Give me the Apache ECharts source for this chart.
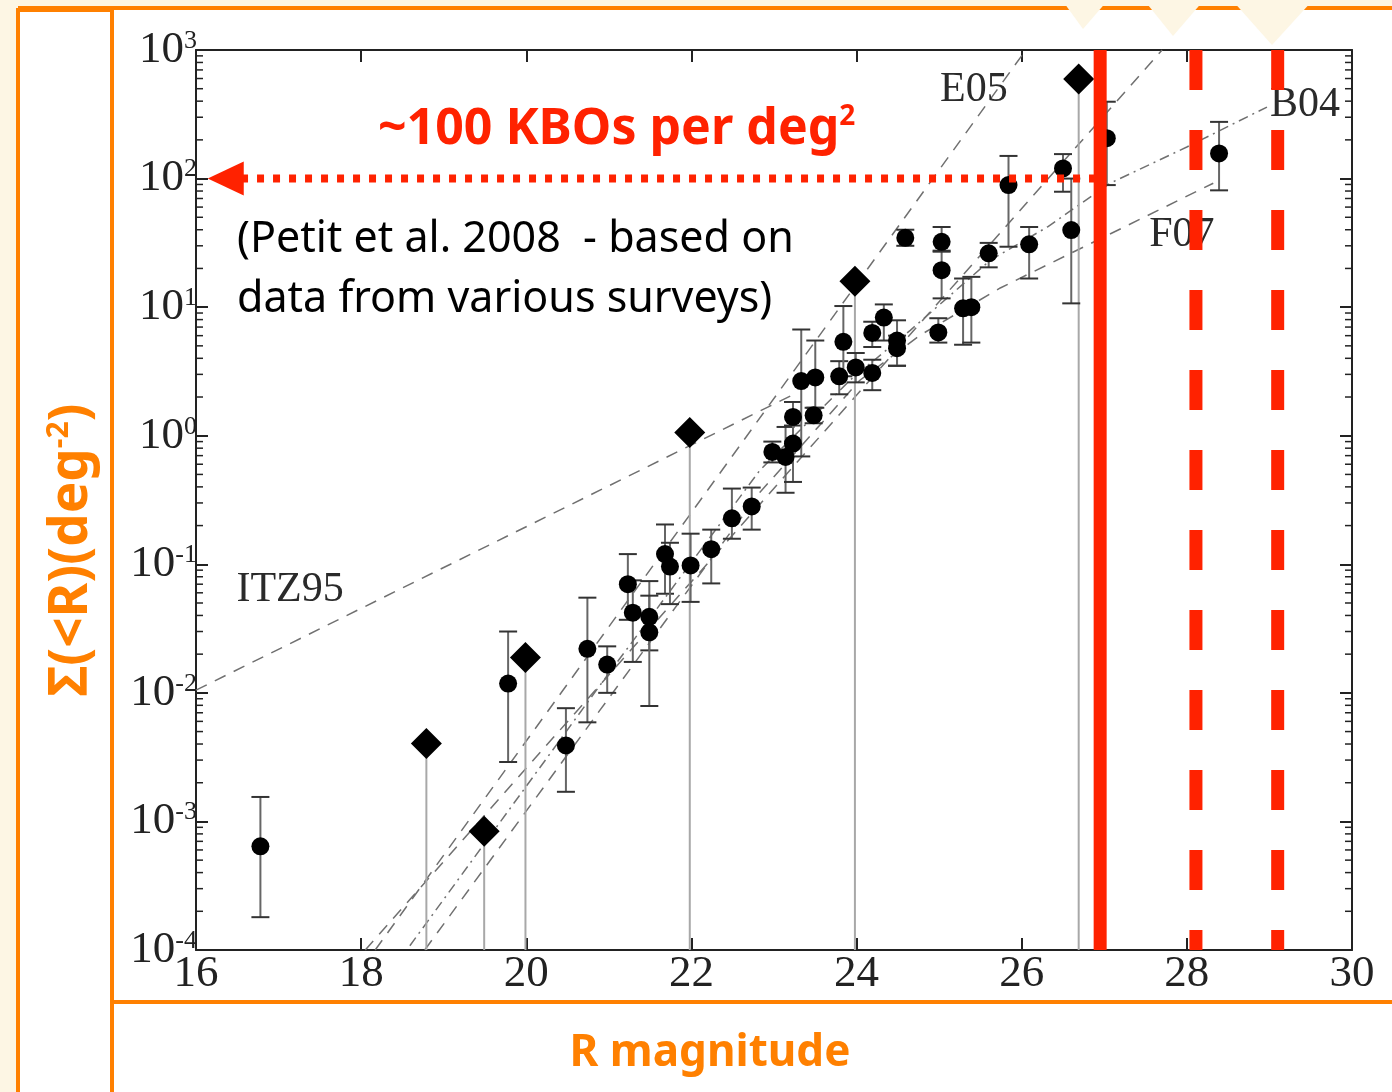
<!DOCTYPE html>
<html>
<head>
<meta charset="utf-8">
<script src="https://cdn.jsdelivr.net/npm/echarts@6/dist/echarts.min.js"></script>
<style>
  html, body { margin: 0; padding: 0; background: #fdf6e4; }
  #main { width: 1392px; height: 1092px; }
</style>
</head>
<body>
<div id="main"></div>
<script>
// R magnitude axis
var magTicks = [16, 18, 20, 22, 24, 26, 28, 30];
// decades of the log axis (for minor ticks)
var decadeStarts = [1e-4, 1e-3, 1e-2, 1e-1, 1, 10, 100];

// survey points: [mag, sigma, low, high]
var kboPoints = [
  [16.78, 6.4e-4, 1.8e-4, 1.55e-3],
  [19.78, 0.0118, 2.9e-3, 0.030],
  [20.48, 3.9e-3, 1.7e-3, 7.6e-3],
  [20.74, 0.022, 5.9e-3, 0.055],
  [20.98, 0.0166, 0.010, 0.023],
  [21.23, 0.070, 0.037, 0.12],
  [21.29, 0.042, 0.0174, 0.075],
  [21.49, 0.039, 0.0214, 0.074],
  [21.49, 0.0296, 0.0079, 0.057],
  [21.68, 0.12, 0.059, 0.204],
  [21.74, 0.096, 0.049, 0.147],
  [21.99, 0.098, 0.051, 0.173],
  [22.24, 0.131, 0.071, 0.186],
  [22.49, 0.228, 0.158, 0.388],
  [22.73, 0.282, 0.186, 0.395],
  [22.98, 0.748, 0.62, 0.90],
  [23.14, 0.684, 0.36, 1.17],
  [23.23, 0.869, 0.437, 1.2],
  [23.23, 1.4, 0.9, 1.83],
  [23.33, 2.66, 0.69, 6.7],
  [23.50, 2.84, 1.65, 5.5],
  [23.48, 1.44, 1.25, 1.65],
  [23.79, 2.9, 2.1, 3.8],
  [23.84, 5.37, 2.9, 10.2],
  [23.99, 3.4, 2.6, 4.4],
  [24.19, 3.08, 2.26, 3.9],
  [24.19, 6.3, 4.9, 7.7],
  [24.33, 8.3, 5.5, 10.5],
  [24.49, 5.5, 3.5, 7.9],
  [24.49, 4.8, 3.5, 6.0],
  [24.59, 34.6, 30, 40],
  [24.99, 6.36, 5.3, 8.2],
  [25.03, 32.2, 27.5, 42],
  [25.03, 19.4, 11.7, 27],
  [25.29, 9.8, 5.1, 16.7],
  [25.39, 10.0, 5.3, 17.2],
  [25.60, 26.2, 20.4, 31.6],
  [25.84, 89, 29.5, 150],
  [26.09, 30.8, 16.7, 42],
  [26.50, 120, 79, 155],
  [26.60, 39.8, 10.7, 100],
  [27.03, 206, 89, 396],
  [28.39, 157, 81, 276]
];

// single-object detections: [mag, sigma]
var diamondPoints = [
  [18.79, 4.03e-3],
  [19.49, 8.4e-4],
  [19.99, 0.0188],
  [21.98, 1.06],
  [23.98, 15.9],
  [26.69, 595]
];

// published fits
var fitITZ95 = [[16, 0.0105], [23.2, 2.04]];
var fitE05 = [[18.17, 1e-4], [26.05, 1000]];
var fitSteep = [[18.05, 1e-4], [27.70, 1000]];
var fitB04 = [[18.59, 1.08e-4], [20.89, 0.0114], [22.83, 0.54], [23.92, 2.7], [24.65, 6.6],
              [25.62, 23.2], [26.31, 42], [27.07, 92], [28.0, 176], [28.97, 360]];
var fitF07 = [[18.77, 1e-4], [20.89, 0.0073], [22.83, 0.363], [24.04, 2.7], [24.77, 6.05],
              [25.74, 14.1], [28.32, 92]];
var fitLabels = [
  { name: 'E05', value: [25.42, 489] },
  { name: 'B04', value: [29.43, 373] },
  { name: 'F07', value: [27.94, 36.3] },
  { name: 'ITZ95', value: [17.14, 0.0628] }
];

// survey limits and the ~100/deg2 level
var limitSolid = 26.95;
var limitDashed = [28.11, 29.10];
var arrowLevel = 100;
var arrowFrom = 26.9, arrowTo = 16.55, arrowHead = 16.36;

var RED = '#ff2200';
var ORANGE = '#ff8000';

function errorBar(params, api) {
  var x = api.value(0);
  var lo = api.coord([x, api.value(2)]);
  var hi = api.coord([x, api.value(3)]);
  var half = 9;
  var st = { stroke: '#333', lineWidth: 2 };
  return {
    type: 'group',
    children: [
      { type: 'line', shape: { x1: lo[0], y1: lo[1], x2: hi[0], y2: hi[1] }, style: { stroke: '#666', lineWidth: 2 } },
      { type: 'line', shape: { x1: lo[0] - half, y1: lo[1], x2: lo[0] + half, y2: lo[1] }, style: st },
      { type: 'line', shape: { x1: hi[0] - half, y1: hi[1], x2: hi[0] + half, y2: hi[1] }, style: st }
    ]
  };
}

function stem(params, api) {
  var x = api.value(0);
  var top = api.coord([x, api.value(1)]);
  var bot = api.coord([x, 1e-4]);
  return { type: 'line', shape: { x1: top[0], y1: top[1], x2: bot[0], y2: bot[1] },
           style: { stroke: '#a8a8a8', lineWidth: 2 } };
}

function minorTicks(params, api) {
  var base = api.value(1);
  var kids = [];
  for (var m = 2; m <= 9; m++) {
    var l = api.coord([16, base * m]);
    var r = api.coord([30, base * m]);
    kids.push({ type: 'line', shape: { x1: l[0], y1: l[1], x2: l[0] + 7, y2: l[1] }, style: { stroke: '#222', lineWidth: 1.5 } });
    kids.push({ type: 'line', shape: { x1: r[0] - 7, y1: r[1], x2: r[0], y2: r[1] }, style: { stroke: '#222', lineWidth: 1.5 } });
  }
  return { type: 'group', children: kids };
}

function fitLine(data, dash) {
  return {
    type: 'line', data: data, showSymbol: false, symbol: 'none', silent: true, z: 1,
    lineStyle: { color: '#707070', width: 1.5, type: dash, opacity: 1 }
  };
}

var yLabelRich = {
  b: { fontFamily: 'Liberation Serif', fontSize: 45, color: '#222', lineHeight: 44 },
  s: { fontFamily: 'Liberation Serif', fontSize: 26, color: '#222', verticalAlign: 'top', lineHeight: 26 }
};

var option = {
  animation: false,
  backgroundColor: '#fdf6e4',
  grid: { left: 196, top: 50, right: 40, bottom: 142, outerBoundsMode: 'none' },
  xAxis: [{
    type: 'value', min: 16, max: 30, interval: 2, position: 'bottom',
    axisLine: { lineStyle: { color: '#222', width: 2 } },
    axisTick: { inside: true, length: 12, lineStyle: { color: '#222', width: 2 } },
    axisLabel: { fontFamily: 'Liberation Serif', fontSize: 45, color: '#222', margin: 2,
                 formatter: function (v) { return magTicks.indexOf(v) >= 0 ? String(v) : ''; } },
    splitLine: { show: false }
  }, {
    type: 'value', min: 16, max: 30, interval: 2, position: 'top',
    axisLine: { lineStyle: { color: '#222', width: 2 } },
    axisTick: { inside: true, length: 12, lineStyle: { color: '#222', width: 2 } },
    axisLabel: { show: false }, splitLine: { show: false }
  }],
  yAxis: [{
    type: 'log', logBase: 10, min: 1e-4, max: 1e3, splitNumber: 7, position: 'left',
    axisLine: { show: true, lineStyle: { color: '#222', width: 2 } },
    axisTick: { show: true, inside: true, length: 12, lineStyle: { color: '#222', width: 2 } },
    axisLabel: {
      margin: -1, rich: yLabelRich,
      formatter: function (v) { return '{b|10}{s|' + Math.round(Math.log10(v)) + '}'; }
    },
    splitLine: { show: false }
  }, {
    type: 'log', logBase: 10, min: 1e-4, max: 1e3, splitNumber: 7, position: 'right',
    axisLine: { show: true, lineStyle: { color: '#222', width: 2 } },
    axisTick: { show: true, inside: true, length: 12, lineStyle: { color: '#222', width: 2 } },
    axisLabel: { show: false }, splitLine: { show: false }
  }],
  series: [
    { type: 'custom', renderItem: minorTicks, data: decadeStarts.map(function (d) { return [16, d]; }), z: 1, silent: true, clip: false },
    fitLine(fitITZ95, [12, 9]),
    fitLine(fitE05, [12, 9]),
    fitLine(fitSteep, [12, 9]),
    fitLine(fitB04, [10, 5, 2, 5]),
    fitLine(fitF07, [12, 9]),
    { type: 'custom', renderItem: stem, data: diamondPoints, z: 2, silent: true },
    { type: 'custom', renderItem: errorBar, data: kboPoints, z: 3, silent: true },
    { type: 'scatter', data: kboPoints.map(function (p) { return [p[0], p[1]]; }),
      symbol: 'circle', symbolSize: 18, itemStyle: { color: '#000', opacity: 1 }, z: 4 },
    { type: 'scatter', data: diamondPoints, symbol: 'diamond', symbolSize: 31,
      itemStyle: { color: '#000', opacity: 1 }, z: 4 },
    { type: 'scatter', data: fitLabels, symbolSize: 1, itemStyle: { color: 'rgba(0,0,0,0)', opacity: 1 }, z: 5,
      label: { show: true, position: 'inside', formatter: '{b}', fontFamily: 'Liberation Serif',
               fontSize: 42, color: '#2a2a2a' } },
    { type: 'line', data: [[limitSolid, 1e3], [limitSolid, 1e-4]], symbol: 'none', z: 6,
      lineStyle: { color: RED, width: 13, cap: 'butt', opacity: 1 } },
    { type: 'line', data: [[limitDashed[0], 1e3], [limitDashed[0], 1e-4]], symbol: 'none', z: 6,
      lineStyle: { color: RED, width: 13, type: [40, 40], cap: 'butt', opacity: 1 } },
    { type: 'line', data: [[limitDashed[1], 1e3], [limitDashed[1], 1e-4]], symbol: 'none', z: 6,
      lineStyle: { color: RED, width: 13, type: [40, 40], cap: 'butt', opacity: 1 } },
    { type: 'line', data: [[arrowFrom, arrowLevel], [arrowTo, arrowLevel]], symbol: 'none', z: 7,
      lineStyle: { color: RED, width: 8, type: [7, 9], cap: 'butt', opacity: 1 } },
    { type: 'scatter', data: [[arrowHead, arrowLevel]], symbol: 'triangle', symbolSize: [34, 36],
      symbolRotate: 90, itemStyle: { color: RED, opacity: 1 }, z: 7 }
  ],
  graphic: [
    { type: 'rect', z: -10, shape: { x: 18, y: 9, width: 1374, height: 1083 }, style: { fill: '#ffffff' } },
    { type: 'rect', z: -9, shape: { x: 18, y: 10, width: 94, height: 1090 }, style: { fill: 'none', stroke: ORANGE, lineWidth: 4 } },
    { type: 'line', z: -9, shape: { x1: 18, y1: 8, x2: 1392, y2: 8 }, style: { stroke: ORANGE, lineWidth: 4 } },
    { type: 'line', z: -9, shape: { x1: 112, y1: 1002, x2: 1392, y2: 1002 }, style: { stroke: ORANGE, lineWidth: 4 } },
    { type: 'polygon', z: -8, shape: { points: [[1062, 0], [1108, 0], [1083, 29]] }, style: { fill: '#fdf6e4' } },
    { type: 'polygon', z: -8, shape: { points: [[1144, 0], [1204, 0], [1173, 36]] }, style: { fill: '#fdf6e4' } },
    { type: 'polygon', z: -8, shape: { points: [[1232, 0], [1313, 0], [1272, 45]] }, style: { fill: '#fdf6e4' } },
    { type: 'text', z: 20, x: 72, y: 550, rotation: Math.PI / 2,
      style: { text: '{a|Σ(<R)(deg}{s|-2}{a|)}', align: 'center', verticalAlign: 'middle',
        rich: { a: { fontFamily: 'Noto Sans', fontWeight: 'bold', fontSize: 53, fill: ORANGE, lineHeight: 56 },
                s: { fontFamily: 'Noto Sans', fontWeight: 'bold', fontSize: 30, fill: ORANGE, verticalAlign: 'top', lineHeight: 30 } } } },
    { type: 'text', z: 20, x: 710, y: 1053,
      style: { text: 'R magnitude', align: 'center', verticalAlign: 'middle', fill: ORANGE,
        fontFamily: 'Noto Sans', fontWeight: 'bold', fontSize: 44 } },
    { type: 'text', z: 20, x: 378, y: 130,
      style: { text: '{a|~100 KBOs per deg}{s|2}', align: 'left', verticalAlign: 'middle',
        rich: { a: { fontFamily: 'Noto Sans', fontWeight: 'bold', fontSize: 50, fill: RED, lineHeight: 54 },
                s: { fontFamily: 'Noto Sans', fontWeight: 'bold', fontSize: 28, fill: RED, verticalAlign: 'top', lineHeight: 28 } } } },
    { type: 'text', z: 20, x: 237, y: 240,
      style: { text: '(Petit et al. 2008  - based on', align: 'left', verticalAlign: 'middle', fill: '#000',
        fontFamily: 'Noto Sans', fontSize: 43 } },
    { type: 'text', z: 20, x: 237, y: 300,
      style: { text: 'data from various surveys)', align: 'left', verticalAlign: 'middle', fill: '#000',
        fontFamily: 'Noto Sans', fontSize: 43 } }
  ]
};

var chart = echarts.init(document.getElementById('main'));
chart.setOption(option);

window.addEventListener('resize', function () {
  chart.resize();
});
</script>
</body>
</html>
